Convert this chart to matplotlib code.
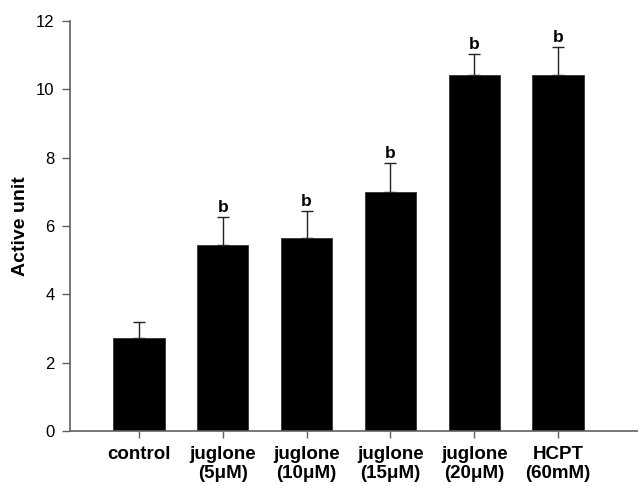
import numpy as np
import matplotlib.pyplot as plt

plt.rcParams['font.family'] = ['Liberation Sans', 'DejaVu Sans']

# Groups, mean activity and upper error (SD)
groups = ['control', 'juglone\n(5μM)', 'juglone\n(10μM)', 'juglone\n(15μM)',
          'juglone\n(20μM)', 'HCPT\n(60mM)']
means = [2.72, 5.44, 5.64, 6.99, 10.43, 10.43]
errors = [0.48, 0.82, 0.79, 0.85, 0.61, 0.80]
marks = ['', 'b', 'b', 'b', 'b', 'b']

fig = plt.figure(figsize=(6.38, 4.86), dpi=100)
ax = fig.add_axes([0.1097, 0.1132, 0.8903, 0.8436])

x = np.arange(len(groups))
ax.bar(x, means, width=0.61, color='black', edgecolor='#333333', linewidth=0.6, zorder=2)
ax.errorbar(x, means, yerr=[np.zeros(len(means)), errors], fmt='none',
            ecolor='#222222', elinewidth=1.0, capsize=4.3, capthick=1.0, zorder=1)

# significance letters above the error caps
for xi, m, e, s in zip(x, means, errors, marks):
    if s:
        ax.annotate(s, (xi, m + e), xytext=(0, 1.5), textcoords='offset points',
                    ha='center', va='bottom', fontsize=12.5, fontweight='bold')

ax.set_xlim(-0.823, 5.955)
ax.set_ylim(0, 12)
ax.set_yticks(np.arange(0, 13, 2))
ax.set_xticks(x)
ax.set_xticklabels(groups, fontsize=13.5, fontweight='bold', linespacing=1.15)
ax.tick_params(axis='y', labelsize=12, length=6, width=1.0, color='#606060', pad=5)
ax.tick_params(axis='x', length=5, width=1.0, color='#606060', pad=6)
ax.set_ylabel('Active unit', fontsize=14, fontweight='bold', labelpad=5)

for side in ['top', 'right']:
    ax.spines[side].set_visible(False)
for side in ['left', 'bottom']:
    ax.spines[side].set_color('#606060')
    ax.spines[side].set_linewidth(1.2)

fig.savefig('out.png', dpi=100)
